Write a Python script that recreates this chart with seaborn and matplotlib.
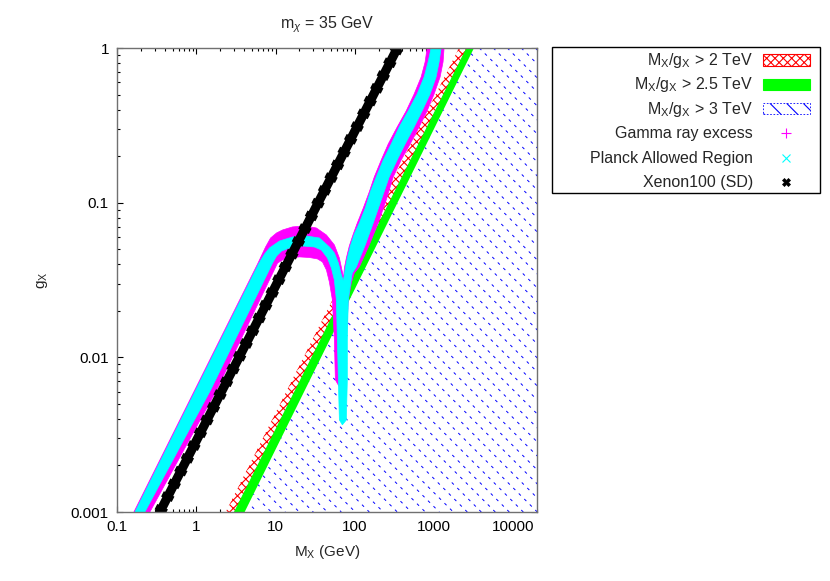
import matplotlib
matplotlib.use("Agg")
import matplotlib.pyplot as plt
from matplotlib.patches import Polygon, Rectangle
from matplotlib.lines import Line2D
from matplotlib.collections import LineCollection
from matplotlib.ticker import LogLocator, NullFormatter
import numpy as np
import seaborn as sns

# ---------------------------------------------------------------
# Valores (M_X en GeV, g_X adimensional)
# ---------------------------------------------------------------
# bordes de las cotas M_X/g_X (rectas en log-log)
cota_g = [0.001, 1.0]
cota_2tev_M = [2.34, 2070]
cota_25tev_M = [3.03, 2610]
cota_3tev_M = [4.06, 3200]

# Xenon100 (SD)
xenon_M = [0.345, 345]
xenon_g = [0.001, 1.0]

# exceso de rayos gamma: borde superior e inferior de la banda
gamma_sup_M = [0.162, 0.952, 5.92, 7.46, 8.63, 10.27, 12.22, 16.32, 23.1, 32.7, 43.8,
               55.2, 63.8, 69.6, 71.7, 73.8, 78.2, 85.2, 95.7, 107.5, 128.0, 152.2,
               176.1, 215.7, 264.2, 343.0, 445.3, 561.6, 687.9, 772.6, 818.8]
gamma_sup_g = [0.001, 0.00615, 0.0402, 0.0517, 0.0591, 0.0637, 0.0666, 0.0697, 0.0707,
               0.0686, 0.0618, 0.0533, 0.0439, 0.0357, 0.0321, 0.0378, 0.0439, 0.0525,
               0.0628, 0.0739, 0.0924, 0.1173, 0.1466, 0.1888, 0.2395, 0.3085, 0.3916,
               0.504, 0.649, 0.812, 1.0]
gamma_inf_M = [0.258, 1.80, 10.57, 12.22, 14.97, 20.0, 26.7, 33.7, 39.0, 43.8, 47.7,
               52.1, 55.2, 56.8, 63.8, 73.8, 78.2, 82.8, 90.3, 98.6, 114.0, 152.2,
               197.7, 249.3, 305.4, 385.1, 500.0, 649.1, 818.8, 1003, 1194, 1302, 1341]
gamma_inf_g = [0.001, 0.00615, 0.0407, 0.0426, 0.0439, 0.0446, 0.0442, 0.0433, 0.0414,
               0.0367, 0.0307, 0.0235, 0.01296, 0.00714, 0.00644, 0.00683, 0.01296,
               0.0235, 0.0303, 0.0351, 0.0384, 0.0533, 0.0739, 0.1041, 0.1466, 0.1888,
               0.2395, 0.3085, 0.3916, 0.504, 0.649, 0.812, 1.0]

# region permitida por Planck
planck_sup_M = [0.167, 0.980, 6.09, 7.25, 8.38, 11.2, 16.32, 24.5, 35.7, 47.7, 55.2,
                62.0, 67.6, 71.7, 75.9, 80.4, 87.8, 98.6, 114.0, 135.6, 156.7, 186.6,
                228.6, 288.2, 363.6, 471.9, 612.8, 750.4, 842.9, 919.4]
planck_sup_g = [0.001, 0.00615, 0.0402, 0.0466, 0.0510, 0.0565, 0.0600, 0.0609, 0.0591,
                0.0517, 0.0473, 0.0407, 0.0341, 0.0312, 0.0378, 0.0439, 0.0525, 0.0628,
                0.0739, 0.0924, 0.1173, 0.1466, 0.1888, 0.2395, 0.3085, 0.3916, 0.504,
                0.649, 0.812, 1.0]
planck_inf_M = [0.223, 1.51, 9.14, 10.27, 11.87, 14.97, 21.8, 30.9, 37.9, 45.1, 50.6,
                55.2, 58.5, 60.2, 62.0, 63.8, 69.6, 78.2, 80.4, 80.4, 82.8, 87.8, 93.0,
                104.4, 135.6, 171.0, 215.7, 271.9, 343.0, 432.5, 561.6, 708.2, 893.1,
                1063, 1160, 1229]
planck_inf_g = [0.001, 0.00615, 0.0407, 0.0452, 0.0487, 0.0510, 0.0525, 0.0517, 0.0494,
                0.0439, 0.0378, 0.0316, 0.0235, 0.01296, 0.00714, 0.00394, 0.00366,
                0.00394, 0.00714, 0.01296, 0.0235, 0.0294, 0.0351, 0.0384, 0.0533,
                0.0739, 0.1041, 0.1466, 0.1888, 0.2395, 0.3085, 0.3916, 0.504, 0.649,
                0.812, 1.0]

x_min, x_max = 0.1, 20000
y_min, y_max = 0.001, 1.0
x_ticks = [0.1, 1, 10, 100, 1000, 10000]
x_tick_labels = ["0.1", "1", "10", "100", "1000", "10000"]
y_ticks = [0.001, 0.01, 0.1, 1]
y_tick_labels = ["0.001", "0.01", "0.1", "1"]

etiquetas = [r"M$_\mathrm{X}$/g$_\mathrm{X}$ > 2 TeV",
             r"M$_\mathrm{X}$/g$_\mathrm{X}$ > 2.5 TeV",
             r"M$_\mathrm{X}$/g$_\mathrm{X}$ > 3 TeV",
             "Gamma ray excess",
             "Planck Allowed Region",
             "Xenon100 (SD)"]

# colores estilo gnuplot
ROJO = "#ff0000"
VERDE = "#00ff00"
AZUL = "#0000ff"
MAGENTA = "#ff00ff"
CIAN = "#00ffff"

# ---------------------------------------------------------------
# Estilo
# ---------------------------------------------------------------
sns.set_style("ticks")
plt.rcParams["font.family"] = ["Liberation Sans", "DejaVu Sans"]
plt.rcParams["mathtext.fontset"] = "custom"
plt.rcParams["mathtext.rm"] = "Liberation Sans"
plt.rcParams["mathtext.it"] = "Liberation Sans:italic"
plt.rcParams["mathtext.bf"] = "Liberation Sans:bold"
plt.rcParams["hatch.linewidth"] = 0.8
TAM = 11
TAM_LEYENDA = 11.5

ANCHO, ALTO = 830, 581
fig = plt.figure(figsize=(ANCHO / 100, ALTO / 100), dpi=100)
ax = fig.add_axes([117.3 / ANCHO, 1 - 512 / ALTO, (537 - 117.3) / ANCHO, (512 - 48) / ALTO])
ax.set_xscale("log")
ax.set_yscale("log")
ax.set_xlim(x_min, x_max)
ax.set_ylim(y_min, y_max)


def region_cota(M_borde):
    # zona a la derecha de la recta M_X/g_X = constante
    return [(M_borde[0], cota_g[0]), (M_borde[1], cota_g[1]),
            (x_max, cota_g[1]), (x_max, cota_g[0])]


ax.add_patch(Polygon(region_cota(cota_2tev_M), closed=True, facecolor="white",
                     edgecolor=ROJO, hatch="xxxx", linewidth=0, zorder=1))
ax.add_patch(Polygon(region_cota(cota_25tev_M), closed=True, facecolor=VERDE,
                     edgecolor=VERDE, linewidth=0.8, zorder=1.1))
zona_azul = Polygon(region_cota(cota_3tev_M), closed=True, facecolor="white",
                    edgecolor="none", linewidth=0, zorder=1.2)
ax.add_patch(zona_azul)

# trama azul discontinua (diagonal "\") recortada a la zona azul
ancho_px = 537 - 117.3
alto_px = 512 - 48
paso = 14.0 / ancho_px
segmentos = [[(x0, 1.0), (x0 + alto_px / ancho_px, 0.0)]
             for x0 in np.arange(-alto_px / ancho_px, 1.0 + paso, paso)]
trama = LineCollection(segmentos, transform=ax.transAxes, colors=AZUL,
                       linewidths=0.7, linestyles=[(0, (3.0, 5.0))], zorder=1.3)
ax.add_collection(trama)
trama.set_clip_path(zona_azul)


def banda(M_sup, g_sup, M_inf, g_inf):
    return list(zip(M_sup, g_sup)) + list(zip(M_inf[::-1], g_inf[::-1]))


ax.add_patch(Polygon(banda(gamma_sup_M, gamma_sup_g, gamma_inf_M, gamma_inf_g),
                     closed=True, facecolor=MAGENTA, edgecolor=MAGENTA,
                     linewidth=0.5, zorder=2))
ax.add_patch(Polygon(banda(planck_sup_M, planck_sup_g, planck_inf_M, planck_inf_g),
                     closed=True, facecolor=CIAN, edgecolor=CIAN,
                     linewidth=0.5, zorder=3))

# Xenon100: trazo grueso + trazo discontinuo mas ancho para el borde dentado
sns.lineplot(x=xenon_M, y=xenon_g, color="black", linewidth=6.6, ax=ax,
             legend=False, zorder=4)
sns.lineplot(x=xenon_M, y=xenon_g, color="black", linewidth=8.6, ax=ax,
             legend=False, zorder=4, linestyle=(0, (0.5, 0.7)))

# ejes al estilo gnuplot
ax.set_xticks(x_ticks, labels=x_tick_labels)
ax.set_yticks(y_ticks, labels=y_tick_labels)
for eje in (ax.xaxis, ax.yaxis):
    eje.set_minor_locator(LogLocator(base=10, subs=[2, 3, 4, 5, 6, 7, 8, 9], numticks=20))
    eje.set_minor_formatter(NullFormatter())
ax.tick_params(which="both", direction="in", top=True, right=True, color="black",
               labelsize=TAM, labelcolor="black")
ax.tick_params(which="major", length=4.5, width=0.8, pad=6)
ax.tick_params(which="minor", length=2.5, width=0.8)
for lado in ax.spines.values():
    lado.set_color("#707070")
    lado.set_linewidth(1.0)
    lado.set_zorder(10)

ax.set_xlabel(r"M$_\mathrm{X}$ (GeV)", fontsize=TAM, labelpad=6)
ax.set_ylabel(r"g$_\mathrm{X}$", fontsize=TAM, labelpad=15)
ax.set_title(r"m$_\chi$ = 35 GeV", fontsize=TAM_LEYENDA, pad=14)

# ---------------------------------------------------------------
# Leyenda al estilo gnuplot (texto alineado a la derecha, muestra a la derecha)
# ---------------------------------------------------------------
def fx(px):
    return px / ANCHO


def fy(py):
    return 1 - py / ALTO


fig.add_artist(Rectangle((fx(552), fy(193)), fx(820) - fx(552), fy(47) - fy(193),
                         transform=fig.transFigure, fill=False, edgecolor="black",
                         linewidth=1.0))
muestras = [dict(facecolor="white", edgecolor=ROJO, hatch="xxxx", linewidth=0.8),
            dict(facecolor=VERDE, edgecolor=VERDE, linewidth=0.8),
            dict(facecolor="white", edgecolor=AZUL, hatch="\\\\", linewidth=0.6,
                 linestyle=(0, (2, 2)))]
marcadores = [dict(marker="+", color=MAGENTA, markersize=7, markeredgewidth=0.8),
              dict(marker="x", color=CIAN, markersize=6, markeredgewidth=0.8),
              dict(marker="X", color="black", markersize=6, markeredgewidth=0.5)]
for i, texto in enumerate(etiquetas):
    yc = 60 + 24.4 * i
    fig.text(fx(753), fy(yc + 5), texto, ha="right", va="baseline",
             fontsize=TAM_LEYENDA)
    if i < 3:
        fig.add_artist(Rectangle((fx(763), fy(yc + 5.5)), fx(810) - fx(763),
                                 fy(yc - 5.5) - fy(yc + 5.5),
                                 transform=fig.transFigure, **muestras[i]))
    else:
        fig.add_artist(Line2D([fx(786)], [fy(yc)], transform=fig.transFigure,
                              linestyle="none", **marcadores[i - 3]))

fig.savefig("out.png", dpi=100)
